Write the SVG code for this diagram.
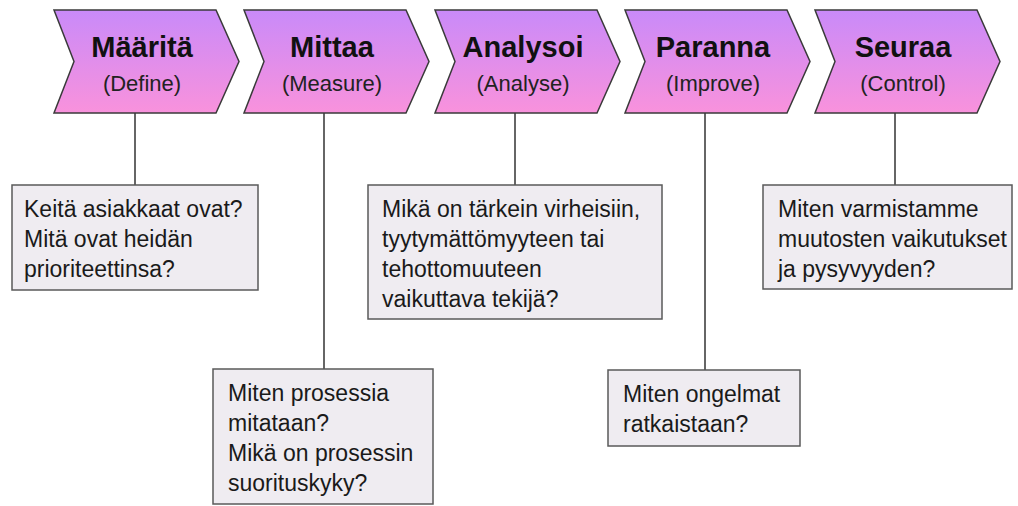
<svg xmlns="http://www.w3.org/2000/svg" width="1018" height="506" viewBox="0 0 1018 506">
  <defs>
    <linearGradient id="chevFill" x1="0" y1="0" x2="0" y2="1">
      <stop offset="0" stop-color="#c98af9"/>
      <stop offset="1" stop-color="#f992dc"/>
    </linearGradient>
    <polygon id="chev" points="0,10 162,10 185,61.5 162,113 0,113 20,61.5"/>
  </defs>
  <style>
    .chev { fill: url(#chevFill); stroke: #3a3a3a; stroke-width: 1.5; stroke-linejoin: miter; }
    .title { font-family: "Liberation Sans", Arial, sans-serif; font-size: 29px; font-weight: bold; fill: #111; text-anchor: middle; }
    .sub { font-family: "Liberation Sans", Arial, sans-serif; font-size: 22px; fill: #222; text-anchor: middle; }
    .box { fill: #efecf1; stroke: #5a5a5a; stroke-width: 1.5; }
    .txt { font-family: "Liberation Sans", Arial, sans-serif; font-size: 23px; fill: #1a1a1a; }
    .conn { stroke: #333; stroke-width: 1.5; fill: none; }
  </style>
  <rect width="1018" height="506" fill="#ffffff"/>

  <!-- connectors from each step down to its question box -->
  <g id="connectors">
    <line class="conn" x1="135" y1="113" x2="135" y2="185"/>
    <line class="conn" x1="324" y1="113" x2="324" y2="369"/>
    <line class="conn" x1="515" y1="113" x2="515" y2="185"/>
    <line class="conn" x1="705" y1="113" x2="705" y2="370"/>
    <line class="conn" x1="895" y1="113" x2="895" y2="185"/>
  </g>

  <!-- process steps -->
  <g id="step-define" transform="translate(54,0)">
    <use href="#chev" class="chev"/>
    <text class="title" x="88" y="57">Määritä</text>
    <text class="sub" x="88" y="91">(Define)</text>
  </g>
  <g id="step-measure" transform="translate(244,0)">
    <use href="#chev" class="chev"/>
    <text class="title" x="88" y="57">Mittaa</text>
    <text class="sub" x="88" y="91">(Measure)</text>
  </g>
  <g id="step-analyse" transform="translate(435,0)">
    <use href="#chev" class="chev"/>
    <text class="title" x="88" y="57">Analysoi</text>
    <text class="sub" x="88" y="91">(Analyse)</text>
  </g>
  <g id="step-improve" transform="translate(625,0)">
    <use href="#chev" class="chev"/>
    <text class="title" x="88" y="57">Paranna</text>
    <text class="sub" x="88" y="91">(Improve)</text>
  </g>
  <g id="step-control" transform="translate(815,0)">
    <use href="#chev" class="chev"/>
    <text class="title" x="88" y="57">Seuraa</text>
    <text class="sub" x="88" y="91">(Control)</text>
  </g>

  <!-- question boxes -->
  <g id="q-define">
    <rect class="box" x="12" y="185" width="246" height="105"/>
    <text class="txt" x="24" y="217">Keitä asiakkaat ovat?</text>
    <text class="txt" x="24" y="247">Mitä ovat heidän</text>
    <text class="txt" x="24" y="277">prioriteettinsa?</text>
  </g>
  <g id="q-measure">
    <rect class="box" x="213" y="369" width="220" height="135"/>
    <text class="txt" x="228" y="401">Miten prosessia</text>
    <text class="txt" x="228" y="431">mitataan?</text>
    <text class="txt" x="228" y="461">Mikä on prosessin</text>
    <text class="txt" x="228" y="491">suorituskyky?</text>
  </g>
  <g id="q-analyse">
    <rect class="box" x="368" y="185" width="294" height="134"/>
    <text class="txt" x="382" y="217">Mikä on tärkein virheisiin,</text>
    <text class="txt" x="382" y="247">tyytymättömyyteen tai</text>
    <text class="txt" x="382" y="277">tehottomuuteen</text>
    <text class="txt" x="382" y="307">vaikuttava tekijä?</text>
  </g>
  <g id="q-improve">
    <rect class="box" x="608" y="370" width="192" height="76"/>
    <text class="txt" x="623" y="402">Miten ongelmat</text>
    <text class="txt" x="623" y="432">ratkaistaan?</text>
  </g>
  <g id="q-control">
    <rect class="box" x="763" y="185" width="249" height="104"/>
    <text class="txt" x="778" y="217">Miten varmistamme</text>
    <text class="txt" x="778" y="247">muutosten vaikutukset</text>
    <text class="txt" x="778" y="277">ja pysyvyyden?</text>
  </g>
</svg>
